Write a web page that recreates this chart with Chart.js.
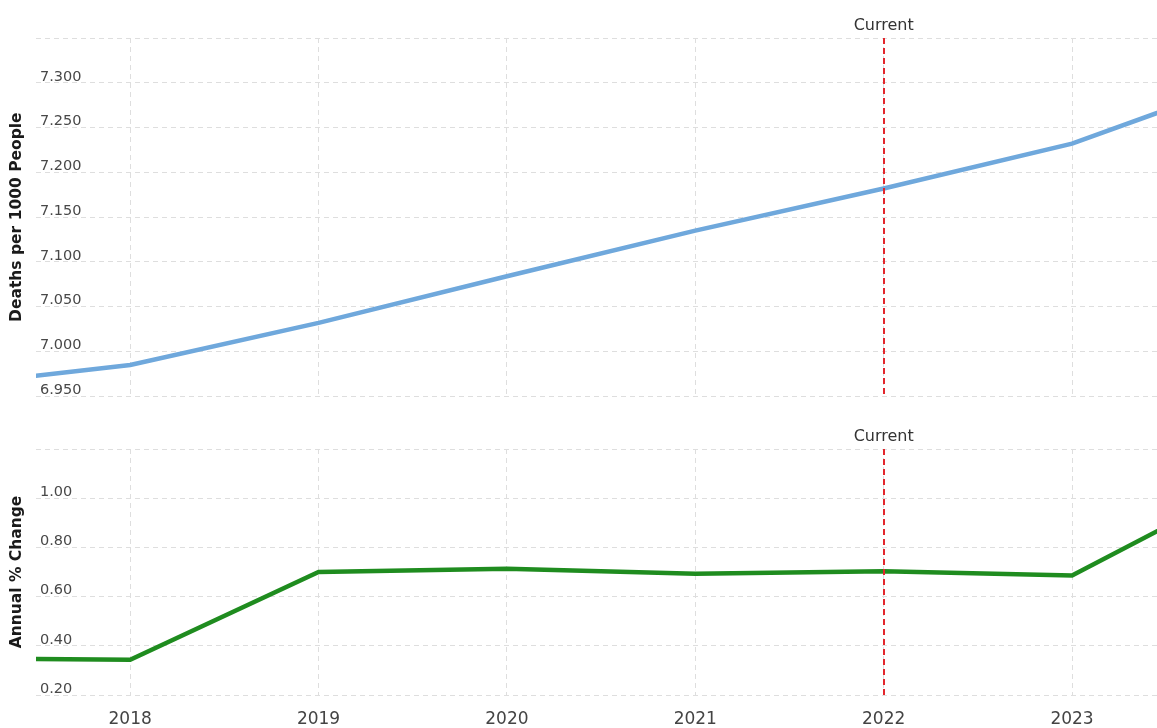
<!DOCTYPE html>
<html>
<head>
<meta charset="utf-8">
<script src="https://cdn.jsdelivr.net/npm/chart.js@4.4.1/dist/chart.umd.min.js"></script>
<style>
  html, body { margin: 0; padding: 0; background: #fff; }
  .panel { position: absolute; left: 0; width: 1157px; }
  #topPanel { top: 0; height: 409px; }
  #bottomPanel { top: 405px; height: 323px; }
</style>
</head>
<body>
<div class="panel" id="bottomPanel"><canvas id="bottomChart"></canvas></div>
<div class="panel" id="topPanel"><canvas id="topChart"></canvas></div>
<script>
"use strict";

// data
const years        = [2017, 2018, 2019, 2020, 2021, 2022, 2023, 2024];
const deathRate    = [6.961, 6.985, 7.032, 7.084, 7.135, 7.182, 7.232, 7.308];
const annualChange = [0.350, 0.343, 0.700, 0.713, 0.693, 0.703, 0.686, 1.084];
const tickYears    = [2018, 2019, 2020, 2021, 2022, 2023];
const currentYear  = 2022;

const FONT = "'DejaVu Sans', Verdana, sans-serif";
const GRID = { color: '#dedede', lineWidth: 1, drawTicks: false };
const BORDER = { display: false, dash: [5, 4] };

// dashed red "Current" marker, placed through the x scale
const currentMarker = {
  id: 'currentMarker',
  afterDatasetsDraw(chart, args, opts) {
    const x = chart.scales.x.getPixelForValue(opts.value);
    const area = chart.chartArea;
    const ctx = chart.ctx;
    ctx.save();
    ctx.strokeStyle = '#e3262c';
    ctx.lineWidth = 2;
    ctx.setLineDash([6, 4]);
    ctx.beginPath();
    ctx.moveTo(Math.round(x), area.top);
    ctx.lineTo(Math.round(x), area.bottom);
    ctx.stroke();
    ctx.setLineDash([]);
    ctx.fillStyle = '#333';
    ctx.font = '16px ' + FONT;
    ctx.textAlign = 'center';
    ctx.textBaseline = 'middle';
    ctx.fillText(opts.label, x, area.top - 12);
    ctx.restore();
  }
};

function xAxis(showLabels, height)
 {
   return {
     type: 'linear',
     min: 2017.5,
     max: 2023.451,
     grid: GRID,
     border: BORDER,
     afterBuildTicks: s => { s.ticks = tickYears.map(v => ({ value: v })); },
     afterFit: s => { s.height = height; },
     ticks: {
       display: showLabels,
       padding: 14,
       color: '#444',
       font: { family: FONT, size: 17 },
       callback: v => String(v)
     }
   };
 }

function yAxis(title, min, max, step, decimals)
 {
   return {
     min: min,
     max: max,
     grid: GRID,
     border: BORDER,
     afterFit: s => { s.width = 36; },
     title: {
       display: true,
       text: title,
       color: '#1a1a1a',
       padding: { top: 8, bottom: 0 },
       font: { family: FONT, size: 15.5, weight: 'bold' }
     },
     ticks: {
       stepSize: step,
       mirror: true,
       padding: 4,
       labelOffset: -6,
       color: '#484848',
       font: { family: FONT, size: 14.5 },
       callback: v => (v > max - step / 2 ? '' : Number(v).toFixed(decimals))
     }
   };
 }

function makeChart(canvasId, values, color, width, yOpts, xOpts, padding)
 {
   return new Chart(document.getElementById(canvasId), {
     type: 'line',
     data: {
       datasets: [{
         data: years.map((y, i) => ({ x: y, y: values[i] })),
         borderColor: color,
         borderWidth: width,
         pointRadius: 0,
         tension: 0,
         fill: false,
         clip: 0
       }]
     },
     options: {
       responsive: true,
       maintainAspectRatio: false,
       animation: false,
       layout: { padding: padding },
       scales: { x: xOpts, y: yOpts },
       plugins: {
         legend: { display: false },
         tooltip: { enabled: false },
         currentMarker: { value: currentYear, label: 'Current' }
       }
     },
     plugins: [currentMarker]
   });
 }

makeChart('topChart', deathRate, '#6fa8dc', 4.5,
          yAxis('Deaths per 1000 People', 6.95, 7.35, 0.05, 3),
          xAxis(false, 0),
          { top: 38, bottom: 5, left: 0, right: 0 });

makeChart('bottomChart', annualChange, '#1f8c1f', 4.5,
          yAxis('Annual % Change', 0.2, 1.2, 0.2, 2),
          xAxis(true, 33),
          { top: 44, bottom: 0, left: 0, right: 0 });
</script>
</body>
</html>
